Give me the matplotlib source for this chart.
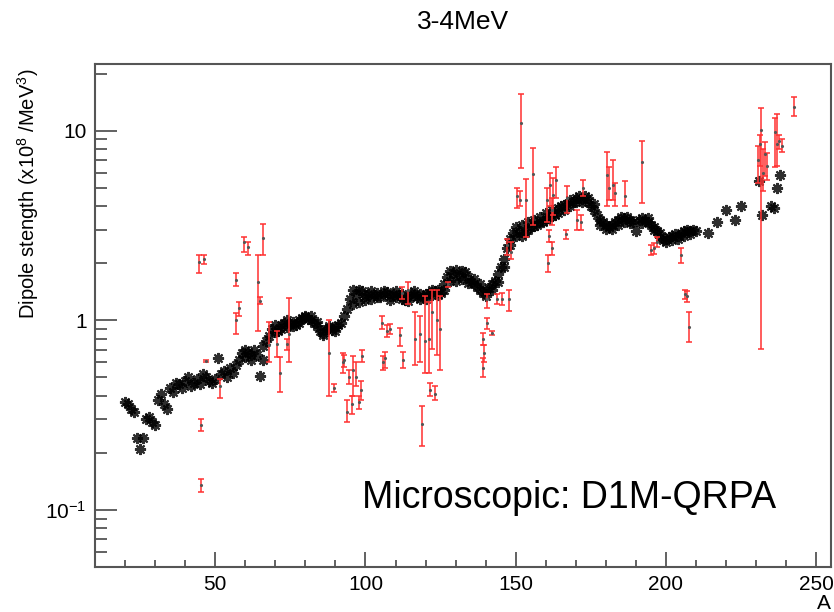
import matplotlib
matplotlib.use("Agg")
import matplotlib.pyplot as plt
from matplotlib.ticker import FixedLocator, LogLocator, MultipleLocator, NullFormatter
import numpy as np

plt.rcParams['font.family'] = ['Liberation Sans', 'DejaVu Sans']
plt.rcParams['mathtext.default'] = 'regular'

# teoria D1M-QRPA (estrellas negras)
A_th = [20, 21, 22, 23, 24, 25, 26, 27, 28, 29, 30, 31, 32, 33, 34, 35, 36, 37, 38, 39,
        40, 41, 42, 43, 44, 45, 46, 47, 48, 49, 50, 51, 52, 53, 54, 55, 56, 57, 58, 59,
        60, 61, 62, 63, 64, 65, 66, 67, 68, 69, 70, 71, 72, 73, 74, 75, 76, 77, 78, 79,
        80, 81, 82, 83, 84, 85, 86, 87, 88, 89, 90, 91, 92, 93, 94, 95, 96, 97, 98, 99,
        100, 101, 102, 103, 104, 105, 106, 107, 108, 109, 110, 111, 112, 113, 114, 115,
        116, 117, 118, 119, 120, 121, 122, 123, 124, 125, 126, 127, 128, 129, 130, 131,
        132, 133, 134, 135, 136, 137, 138, 139, 140, 141, 142, 143, 144, 145, 146, 147,
        148, 149, 150, 151, 152, 153, 154, 155, 156, 157, 158, 159, 160, 161, 162, 163,
        164, 165, 166, 167, 168, 169, 170, 171, 172, 173, 174, 175, 176, 177, 178, 179,
        180, 181, 182, 183, 184, 185, 186, 187, 188, 189, 190, 191, 192, 193, 194, 195,
        196, 197, 198, 199, 200, 201, 202, 203, 204, 205, 206, 207, 208, 209, 210, 214,
        217, 220, 223, 225, 231, 232, 235, 236, 237, 238]
S_th = [0.37, 0.36, 0.34, 0.33, 0.24, 0.21, 0.24, 0.30, 0.31, 0.29, 0.28, 0.38, 0.41, 0.36, 0.34, 0.44, 0.42, 0.47, 0.46, 0.44,
        0.48, 0.50, 0.45, 0.47, 0.49, 0.46, 0.52, 0.50, 0.48, 0.47, 0.49, 0.63, 0.52, 0.54, 0.50, 0.56, 0.53, 0.58, 0.62, 0.67,
        0.64, 0.68, 0.62, 0.70, 0.66, 0.51, 0.73, 0.78, 0.83, 0.90, 0.94, 0.88, 0.95, 0.97, 0.92, 0.96, 0.98, 0.95, 1.01, 1.03,
        1.04, 1.02, 1.00, 0.97, 0.93, 0.88, 0.86, 0.90, 0.91, 0.89, 0.92, 0.94, 0.97, 1.05, 1.15, 1.30, 1.45, 1.38, 1.25, 1.42,
        1.35, 1.38, 1.30, 1.36, 1.40, 1.33, 1.37, 1.41, 1.35, 1.38, 1.42, 1.36, 1.30, 1.28, 1.35, 1.40,
        1.36, 1.32, 1.30, 1.34, 1.38, 1.40, 1.36, 1.42, 1.45, 1.40, 1.55, 1.70, 1.62, 1.78, 1.85, 1.72,
        1.65, 1.80, 1.70, 1.60, 1.55, 1.50, 1.45, 1.40, 1.42, 1.48, 1.55, 1.62, 1.75, 1.90, 2.1, 2.4,
        2.7, 2.9, 3.1, 2.95, 3.2, 2.9, 3.3, 3.1, 3.4, 3.2, 3.5, 3.3, 3.7, 3.5, 3.8, 3.6,
        3.9, 4.0, 3.8, 4.1, 4.3, 4.2, 4.4, 4.5, 4.35, 4.5, 4.2, 4.0, 3.8, 3.6, 3.4, 3.3,
        3.2, 3.1, 3.2, 3.3, 3.4, 3.5, 3.45, 3.5, 3.4, 3.3, 2.95, 3.4, 3.45, 3.35, 3.3, 3.2,
        3.1, 2.95, 2.75, 2.65, 2.7, 2.75, 2.8, 2.85, 2.8, 2.9, 2.95, 3.0, 2.95, 3.0, 2.95, 2.9,
        3.3, 3.8, 3.4, 4.0, 5.4, 3.6, 4.0, 3.9, 5.0, 5.85]

# segunda fila de la banda teorica
A_th2 = [60, 62, 66, 70, 72, 74, 76, 78, 80, 82, 84, 86, 88, 90, 96, 98, 100, 102, 104, 106,
         108, 110, 112, 114, 116, 118, 120, 122, 124, 126, 128, 130, 132, 134, 136, 138, 140,
         142, 144, 146, 148, 150, 152, 154, 156, 158, 160, 162, 164, 166, 168, 170, 172, 174,
         176, 178, 180, 182, 184, 186, 188, 192, 194, 196, 198, 200, 202, 204, 206, 208]
S_th2 = [0.70, 0.66, 0.62, 0.87, 0.90, 1.00, 0.93, 0.97, 1.06, 1.05, 0.98, 0.84, 0.93, 0.88, 1.22, 1.45, 1.28, 1.42, 1.32, 1.43,
         1.28, 1.32, 1.38, 1.26, 1.42, 1.38, 1.30, 1.45, 1.36, 1.45, 1.82, 1.62, 1.82, 1.58, 1.65, 1.55, 1.35,
         1.45, 1.60, 1.9, 2.5, 2.8, 2.8, 3.0, 3.15, 3.3, 3.4, 3.55, 3.7, 4.05, 4.0, 4.2, 4.2, 4.4,
         4.1, 3.2, 3.05, 3.05, 3.2, 3.3, 3.25, 3.25, 3.45, 3.0, 2.9, 2.6, 2.65, 2.7, 2.8, 2.85]

# datos experimentales (rojo): valor, limite inferior, limite superior
A_exp = [44.7, 46.4, 45.4, 45.4, 47.0, 51.7, 57.0, 57.0, 58.0, 59.6, 61.0, 64.2, 64.8, 65.9, 67.9,
         70.5, 71.5, 74.5, 73.8, 88.0, 89.5, 92.5, 93.0, 94.5, 94.0, 95.5, 96.0, 97.0, 97.7, 98.5,
         99.0, 105.6, 107.0, 108.3, 105.8, 106.6, 111.6, 112.6, 112.0, 114.0, 116.5, 118.0, 119.9,
         121.0, 122.2, 123.8, 124.8, 118.9, 121.5, 123.0, 127.5, 140.4, 140.4, 139.0, 139.5, 139.0,
         142.0, 143.7, 145.5, 147.8, 147.0, 148.5, 151.7, 155.6, 153.3, 150.3, 151.3, 160.5, 161.5,
         162.5, 163.5, 162.0, 161.0, 162.0, 160.8, 166.6, 167.2, 170.5, 171.8, 172.5, 180.5, 181.2,
         182.5, 183.0, 186.4, 192.0, 195.0, 196.0, 197.0, 205.0, 206.2, 207.0, 207.6, 231.8, 230.8,
         231.3, 232.2, 233.0, 233.6, 236.2, 237.0, 237.8, 238.5, 242.7]
S_exp = [2.03, 2.10, 0.28, 0.135, 0.61, 0.45, 1.63, 1.00, 1.16, 2.60, 2.45, 1.60, 1.27, 2.72, 0.74,
         0.75, 0.53, 0.85, 0.75, 0.67, 0.44, 0.60, 0.62, 0.50, 0.33, 0.36, 0.55, 0.50, 0.37, 0.43,
         0.65, 0.97, 0.88, 0.90, 0.60, 0.63, 0.84, 0.62, 1.40, 1.45, 0.80, 0.85, 0.78,
         0.80, 1.10, 1.00, 0.90, 0.285, 0.43, 0.41, 1.55, 1.30, 0.97, 0.80, 0.67, 0.56,
         0.86, 1.30, 1.30, 1.30, 2.50, 2.30, 11.0, 5.9, 4.32, 4.5, 4.3, 4.3, 5.2,
         4.6, 5.5, 3.8, 2.8, 2.4, 2.0, 2.85, 4.4, 3.4, 3.3, 5.0, 5.85, 5.0,
         5.2, 4.7, 4.5, 6.85, 2.35, 2.40, 2.60, 2.20, 1.38, 1.35, 0.92, 10.1, 7.0,
         8.5, 6.0, 7.5, 6.5, 9.8, 8.5, 8.8, 8.3, 13.4]
S_lo = [1.77, 1.98, 0.26, 0.125, 0.60, 0.39, 1.51, 0.85, 1.05, 2.30, 2.20, 0.88, 1.22, 2.21, 0.60,
        0.64, 0.42, 0.60, 0.70, 0.40, 0.42, 0.53, 0.57, 0.46, 0.29, 0.32, 0.40, 0.45, 0.34, 0.38,
        0.60, 0.90, 0.82, 0.85, 0.55, 0.56, 0.73, 0.56, 1.30, 1.22, 0.58, 0.60, 0.53,
        0.53, 0.71, 0.66, 0.55, 0.218, 0.40, 0.38, 1.50, 1.16, 0.90, 0.74, 0.60, 0.50,
        0.84, 1.22, 1.20, 1.12, 2.20, 2.10, 6.37, 3.19, 2.75, 3.9, 4.0, 3.3, 4.0,
        3.6, 4.4, 3.2, 2.6, 2.2, 1.8, 2.70, 3.7, 3.0, 3.0, 4.5, 4.0, 4.3,
        4.3, 4.0, 4.0, 4.16, 2.20, 2.25, 2.45, 2.00, 1.30, 1.25, 0.77, 0.71, 5.3,
        6.5, 4.8, 5.8, 5.5, 6.4, 6.5, 8.0, 7.7, 11.9]
S_hi = [2.21, 2.21, 0.30, 0.145, 0.62, 0.49, 1.77, 1.09, 1.25, 2.75, 2.60, 2.20, 1.32, 3.22, 0.975,
        0.88, 0.64, 1.31, 0.80, 1.00, 0.46, 0.67, 0.66, 0.55, 0.38, 0.40, 0.65, 0.60, 0.40, 0.48,
        0.70, 1.05, 0.95, 0.96, 0.65, 0.68, 0.91, 0.68, 1.50, 1.60, 1.10, 1.05, 1.35,
        1.25, 1.45, 1.45, 1.35, 0.355, 0.47, 0.45, 1.60, 1.37, 1.03, 0.86, 0.74, 0.63,
        0.88, 1.38, 1.40, 1.45, 2.70, 2.60, 15.7, 8.1, 5.57, 5.0, 4.8, 5.0, 6.0,
        5.6, 6.4, 4.4, 3.0, 2.6, 2.2, 3.00, 5.1, 3.8, 3.6, 5.5, 7.7, 6.4,
        7.0, 5.3, 5.4, 8.85, 2.50, 2.55, 2.75, 2.40, 1.45, 1.42, 1.10, 13.1, 8.3,
        9.5, 8.0, 8.7, 7.6, 11.7, 12.2, 9.5, 9.0, 15.0]

S_exp = np.array(S_exp)
yerr = [S_exp - np.array(S_lo), np.array(S_hi) - S_exp]

fig = plt.figure(figsize=(8.34, 6.12), dpi=100)
ax = fig.add_axes([0.114, 0.0735, 0.8826, 0.822])

ax.errorbar(A_exp, S_exp, yerr=yerr, fmt='.', color='#ff2a2a', ecolor='#ff3030',
            elinewidth=1.1, capsize=2.5, capthick=1.1, markersize=2.5,
            markerfacecolor='#555555', markeredgecolor='#555555', zorder=3)
ax.plot(A_th, S_th, linestyle='none', marker=(8, 2, 0), markersize=8, markeredgewidth=1.5,
        color='black', alpha=0.82, zorder=2)
ax.plot(A_th2, S_th2, linestyle='none', marker=(8, 2, 0), markersize=8, markeredgewidth=1.5,
        color='black', alpha=0.82, zorder=2)

ax.set_yscale('log')
ax.set_xlim(10, 255)
ax.set_ylim(0.05, 22.5)

ax.xaxis.set_major_locator(FixedLocator([50, 100, 150, 200, 250]))
ax.xaxis.set_minor_locator(MultipleLocator(10))
ax.yaxis.set_major_locator(FixedLocator([0.1, 1, 10]))
ax.set_yticklabels(['$10^{-1}$', '1', '10'])
ax.yaxis.set_minor_locator(LogLocator(base=10, subs=np.arange(2, 10)))
ax.yaxis.set_minor_formatter(NullFormatter())

ax.tick_params(axis='x', which='major', direction='in', length=11, width=1.3,
               labelsize=15, pad=6, color='#555555')
ax.tick_params(axis='x', which='minor', direction='in', length=5, width=1.3, color='#555555')
ax.tick_params(axis='y', which='major', direction='in', length=16, width=1.3,
               labelsize=15, pad=6, color='#555555')
ax.tick_params(axis='y', which='minor', direction='in', length=8.5, width=1.3, color='#555555')
for s in ax.spines.values():
    s.set_linewidth(1.5)
    s.set_color('#555555')

fig.text(0.555, 1 - 22 / 612, '3-4MeV', fontsize=19, ha='center', va='center')
ax.set_xlabel('A', loc='right', fontsize=15, labelpad=0)
ax.set_ylabel('Dipole stength (x10$^8$ /MeV$^3$)', loc='top', fontsize=14.5)
ax.yaxis.set_label_coords(-0.073, 0.99)

ax.text(0.363, 0.137, 'Microscopic: D1M-QRPA', transform=ax.transAxes,
        fontsize=27, ha='left', va='center')

plt.savefig('out.png', dpi=100)
